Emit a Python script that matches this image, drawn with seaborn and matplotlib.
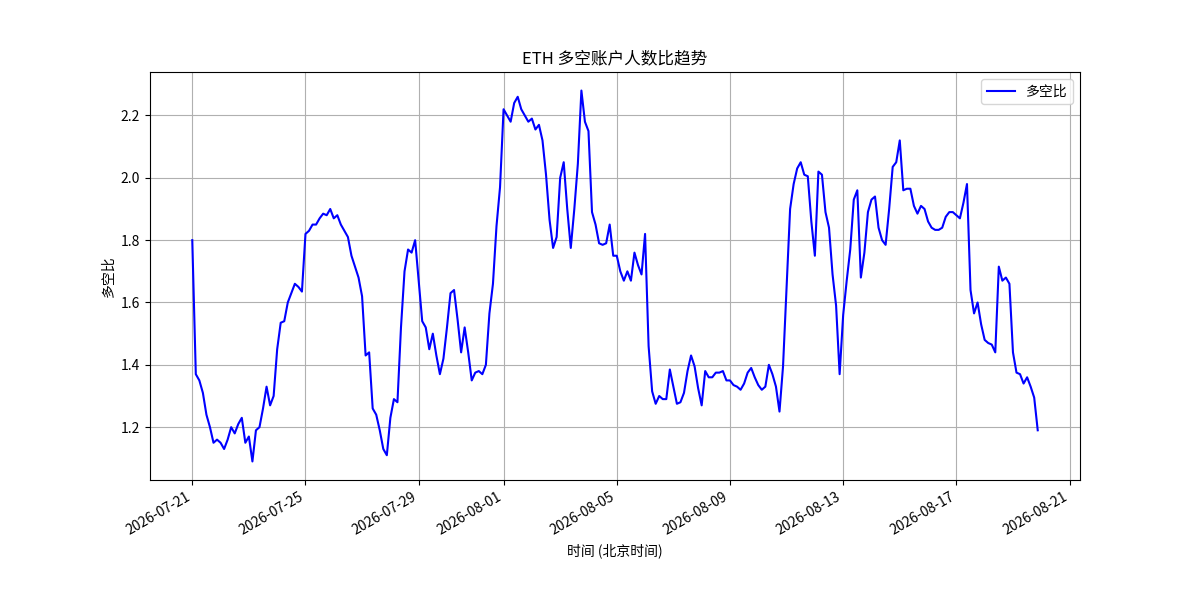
import pandas as pd
import numpy as np
import matplotlib
matplotlib.use("Agg")
import matplotlib.pyplot as plt
import matplotlib.dates as mdates
import seaborn as sns

plt.rcParams['font.family'] = ['Noto Sans CJK SC', 'DejaVu Sans']
plt.rcParams['axes.unicode_minus'] = False

# ETH long/short account ratio, one reading every 3 hours (Beijing time)
start_time = "2026-07-21 00:00"
step = "3h"

ratio = [
    # 07-21
    1.80, 1.37, 1.35, 1.31, 1.24, 1.20, 1.15, 1.16,
    # 07-22
    1.15, 1.13, 1.16, 1.20, 1.18, 1.21, 1.23, 1.15,
    # 07-23
    1.17, 1.09, 1.19, 1.20, 1.26, 1.33, 1.27, 1.30,
    # 07-24
    1.45, 1.535, 1.54, 1.60, 1.63, 1.66, 1.65, 1.635,
    # 07-25
    1.82, 1.83, 1.85, 1.85, 1.87, 1.885, 1.88, 1.90,
    # 07-26
    1.87, 1.88, 1.85, 1.83, 1.81, 1.75, 1.715, 1.68,
    # 07-27
    1.62, 1.43, 1.44, 1.26, 1.24, 1.19, 1.13, 1.11,
    # 07-28
    1.23, 1.29, 1.28, 1.52, 1.70, 1.77, 1.76, 1.80,
    # 07-29
    1.67, 1.54, 1.52, 1.45, 1.50, 1.43, 1.37, 1.42,
    # 07-30
    1.52, 1.63, 1.64, 1.545, 1.44, 1.52, 1.44, 1.35,
    # 07-31
    1.375, 1.38, 1.37, 1.40, 1.565, 1.66, 1.845, 1.97,
    # 08-01
    2.22, 2.20, 2.18, 2.24, 2.26, 2.22, 2.20, 2.18,
    # 08-02
    2.19, 2.155, 2.17, 2.12, 2.01, 1.865, 1.775, 1.81,
    # 08-03
    2.00, 2.05, 1.90, 1.775, 1.90, 2.045, 2.28, 2.18,
    # 08-04
    2.15, 1.89, 1.85, 1.79, 1.785, 1.79, 1.85, 1.75,
    # 08-05
    1.75, 1.70, 1.67, 1.70, 1.67, 1.76, 1.72, 1.69,
    # 08-06
    1.82, 1.46, 1.315, 1.275, 1.30, 1.29, 1.29, 1.385,
    # 08-07
    1.33, 1.275, 1.28, 1.31, 1.38, 1.43, 1.395, 1.325,
    # 08-08
    1.27, 1.38, 1.36, 1.36, 1.375, 1.375, 1.38, 1.35,
    # 08-09
    1.35, 1.335, 1.33, 1.32, 1.34, 1.375, 1.39, 1.36,
    # 08-10
    1.335, 1.32, 1.33, 1.40, 1.37, 1.33, 1.25, 1.395,
    # 08-11
    1.65, 1.90, 1.98, 2.03, 2.05, 2.01, 2.005, 1.86,
    # 08-12
    1.75, 2.02, 2.01, 1.89, 1.84, 1.69, 1.59, 1.37,
    # 08-13
    1.56, 1.67, 1.77, 1.93, 1.96, 1.68, 1.76, 1.89,
    # 08-14
    1.93, 1.94, 1.84, 1.80, 1.785, 1.90, 2.035, 2.05,
    # 08-15
    2.12, 1.96, 1.965, 1.965, 1.91, 1.885, 1.91, 1.90,
    # 08-16
    1.86, 1.84, 1.833, 1.833, 1.84, 1.875, 1.89, 1.89,
    # 08-17
    1.88, 1.87, 1.92, 1.98, 1.64, 1.565, 1.60, 1.53,
    # 08-18
    1.48, 1.47, 1.465, 1.44, 1.715, 1.67, 1.68, 1.66,
    # 08-19
    1.44, 1.375, 1.37, 1.34, 1.36, 1.33, 1.295, 1.19,
]

times = pd.date_range(start_time, periods=len(ratio), freq=step)
df = pd.DataFrame({"time": times, "ratio": ratio})

fig, ax = plt.subplots(figsize=(12, 6), dpi=100)
sns.lineplot(data=df, x="time", y="ratio", ax=ax, color="blue",
             linewidth=1.5, label="多空比")

ax.set_title("ETH 多空账户人数比趋势")
ax.set_xlabel("时间 (北京时间)")
ax.set_ylabel("多空比")
ax.grid(True)
ax.legend(loc="upper right")

ax.xaxis.set_major_locator(mdates.DayLocator(bymonthday=[1, 5, 9, 13, 17, 21, 25, 29]))
ax.xaxis.set_major_formatter(mdates.DateFormatter("%Y-%m-%d"))
fig.autofmt_xdate()

plt.savefig("out.png")
plt.close()
